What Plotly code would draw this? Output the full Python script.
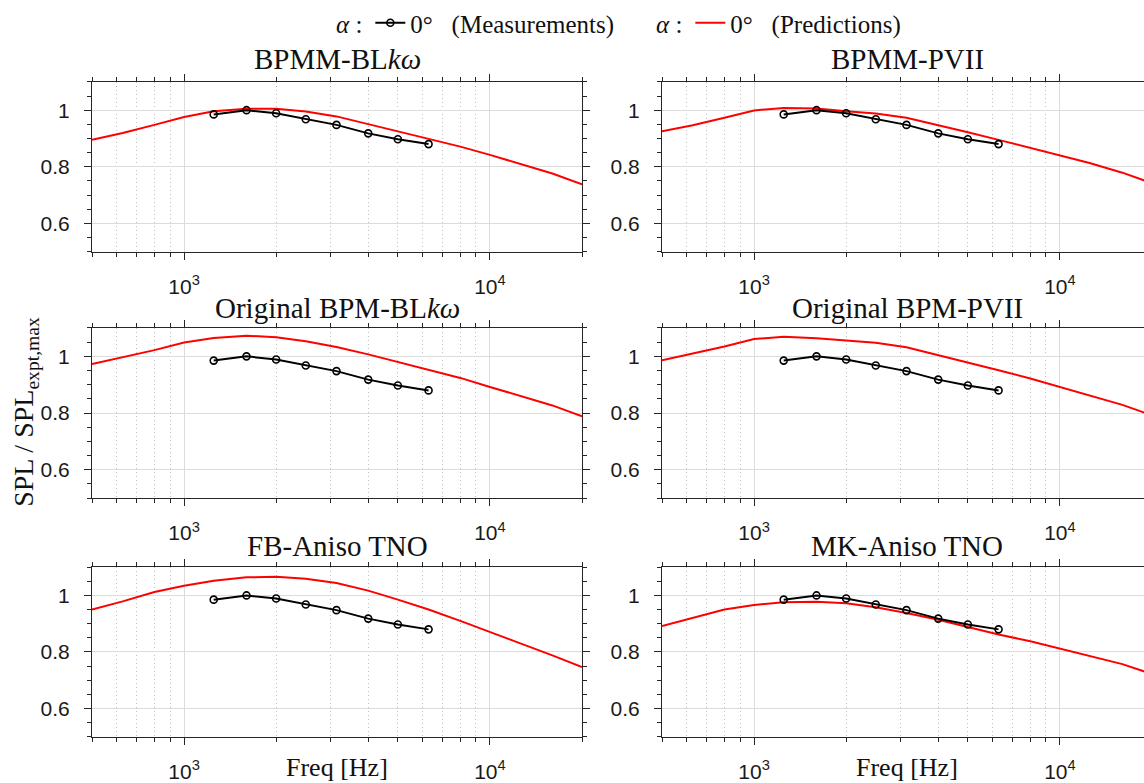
import math
import plotly.graph_objects as go
from plotly.subplots import make_subplots

# ---------------- data ----------------
freq_meas = [1250, 1600, 2000, 2500, 3150, 4000, 5000, 6300]
spl_meas = [0.985, 1.000, 0.989, 0.968, 0.948, 0.918, 0.897, 0.880]

freq_pred = [500, 630, 800, 1000, 1250, 1600, 2000, 2500, 3150, 4000, 5000,
             6300, 8000, 10000, 12500, 16000, 20000]

pred_bpmm_blkw = [0.895, 0.919, 0.948, 0.976, 0.996, 1.005, 1.005, 0.995, 0.978, 0.951,
                  0.925, 0.899, 0.871, 0.842, 0.810, 0.776, 0.738]
pred_bpmm_pvii = [0.925, 0.947, 0.973, 0.999, 1.008, 1.006, 0.996, 0.988, 0.973, 0.948,
                  0.922, 0.895, 0.867, 0.840, 0.813, 0.779, 0.742]
pred_orig_blkw = [0.973, 0.998, 1.022, 1.049, 1.065, 1.073, 1.067, 1.053, 1.033, 1.007,
                  0.981, 0.953, 0.924, 0.892, 0.862, 0.827, 0.789]
pred_orig_pvii = [0.986, 1.009, 1.035, 1.061, 1.069, 1.064, 1.057, 1.048, 1.032, 1.005,
                  0.979, 0.951, 0.922, 0.892, 0.862, 0.829, 0.792]
pred_fb_aniso = [0.950, 0.979, 1.012, 1.034, 1.052, 1.064, 1.066, 1.059, 1.044, 1.017,
                 0.985, 0.950, 0.910, 0.871, 0.832, 0.788, 0.747]
pred_mk_aniso = [0.892, 0.921, 0.950, 0.966, 0.976, 0.978, 0.972, 0.958, 0.938, 0.914,
                 0.888, 0.862, 0.838, 0.812, 0.785, 0.757, 0.722]

panel_titles = ["BPMM-BL<i>kω</i>", "BPMM-PVII",
                "Original BPM-BL<i>kω</i>", "Original BPM-PVII",
                "FB-Aniso TNO", "MK-Aniso TNO"]
panel_preds = [pred_bpmm_blkw, pred_bpmm_pvii, pred_orig_blkw,
               pred_orig_pvii, pred_fb_aniso, pred_mk_aniso]

x_tickvals = [1000, 10000]
x_ticktext = ["10<sup>3</sup>", "10<sup>4</sup>"]
y_tickvals = [0.6, 0.8, 1.0]
y_ticktext = ["0.6", "0.8", "1"]

# ---------------- layout geometry (pixels) ----------------
W, H = 1144, 783
col_px = [(92, 582), (662, 1144)]
row_px = [(79.5, 250.5), (327.5, 499), (568.5, 739.5)]
px_per_dec = (582 - 92) / (math.log10(20000) - math.log10(500))
x_lo = math.log10(500)
x_ranges = [[x_lo, math.log10(20000)],
            [x_lo, x_lo + (1144 - 662) / px_per_dec]]

SERIF = "Liberation Serif"
SANS = "Liberation Sans"
AX = "#262626"
TXT = "#111111"

fig = make_subplots(rows=3, cols=2)

for i, (title, pred) in enumerate(zip(panel_titles, panel_preds)):
    r, c = i // 2 + 1, i % 2 + 1
    first = (i == 0)
    fig.add_trace(go.Scatter(
        x=freq_pred, y=pred, mode="lines",
        line=dict(color="#ff0000", width=2),
        name="0°\u2002 (Predictions)", legend="legend2", showlegend=first,
    ), row=r, col=c)
    fig.add_trace(go.Scatter(
        x=freq_meas, y=spl_meas, mode="lines+markers",
        line=dict(color="black", width=2),
        marker=dict(symbol="circle-open", size=7, color="black", line=dict(width=1.6)),
        name="0°\u2002 (Measurements)", legend="legend", showlegend=first,
    ), row=r, col=c)

for i in range(6):
    r, c = i // 2, i % 2
    idx = i + 1
    xa = "xaxis" if idx == 1 else f"xaxis{idx}"
    ya = "yaxis" if idx == 1 else f"yaxis{idx}"
    x0, x1 = col_px[c]
    t, b = row_px[r]
    fig.layout[xa].update(
        domain=[x0 / W, x1 / W], type="log", range=x_ranges[c],
        showline=True, linecolor=AX, linewidth=1, mirror="allticks",
        ticks="outside", ticklen=7, tickcolor=AX, tickwidth=1,
        tickvals=x_tickvals, ticktext=x_ticktext,
        tickfont=dict(family=SANS, size=21, color="#1a1a1a"),
        ticklabelstandoff=9,
        showgrid=True, gridcolor="#dcdcdc", gridwidth=1, zeroline=False,
        minor=dict(ticks="outside", ticklen=4, tickcolor=AX, dtick="D1",
                   showgrid=True, gridcolor="#bdbdbd", griddash="1px,3px", gridwidth=1),
    )
    fig.layout[ya].update(
        domain=[1 - b / H, 1 - t / H], range=[0.5, 1.1],
        showline=True, linecolor=AX, linewidth=1,
        mirror="allticks" if c == 0 else False,
        ticks="outside", ticklen=7, tickcolor=AX, tickwidth=1,
        tickvals=y_tickvals, ticktext=y_ticktext,
        tickfont=dict(family=SANS, size=21, color="#1a1a1a"),
        ticklabelstandoff=10,
        showgrid=True, gridcolor="#dcdcdc", gridwidth=1, zeroline=False,
        minor=dict(ticks="outside", ticklen=4, tickcolor=AX, dtick=0.05, tick0=0.5,
                   showgrid=False),
    )

annotations = []
title_y_px = [56, 307, 547]
for i, title in enumerate(panel_titles):
    r, c = i // 2, i % 2
    cx = (col_px[c][0] + (col_px[c][0] + 490)) / 2
    annotations.append(dict(
        text=title, x=cx / W, y=1 - title_y_px[r] / H, xref="paper", yref="paper",
        xanchor="center", yanchor="middle", showarrow=False,
        font=dict(family=SERIF, size=29, color=TXT),
    ))
for c in range(2):
    cx = (col_px[c][0] + (col_px[c][0] + 490)) / 2
    annotations.append(dict(
        text="Freq [Hz]", x=cx / W, y=1 - 770 / H, xref="paper", yref="paper",
        xanchor="center", yanchor="middle", showarrow=False,
        font=dict(family=SERIF, size=26, color=TXT),
    ))
annotations.append(dict(
    text="SPL / SPL<sub>expt,max</sub>", x=26 / W, y=1 - 412 / H,
    xref="paper", yref="paper", xanchor="center", yanchor="middle",
    textangle=-90, showarrow=False,
    font=dict(family=SERIF, size=28, color=TXT),
))

legend_common = dict(
    orientation="h", yanchor="middle", xanchor="left",
    bgcolor="rgba(0,0,0,0)", borderwidth=0,
    font=dict(family=SERIF, size=25, color=TXT),
    itemwidth=30, tracegroupgap=0,
)
fig.update_layout(
    width=W, height=H,
    margin=dict(l=0, r=0, t=0, b=0),
    paper_bgcolor="white", plot_bgcolor="white",
    annotations=annotations,
    legend=dict(x=334 / W, y=1 - 20 / H,
                title=dict(text="<i>α</i> :", side="left",
                           font=dict(family=SERIF, size=25, color=TXT)),
                **legend_common),
    legend2=dict(x=654 / W, y=1 - 20 / H,
                 title=dict(text="<i>α</i> :", side="left",
                            font=dict(family=SERIF, size=25, color=TXT)),
                 **legend_common),
)

fig.write_html(
    "out.html",
    config={"displayModeBar": False},
    post_script="document.body.style.margin='0';document.body.style.overflow='hidden';",
)
